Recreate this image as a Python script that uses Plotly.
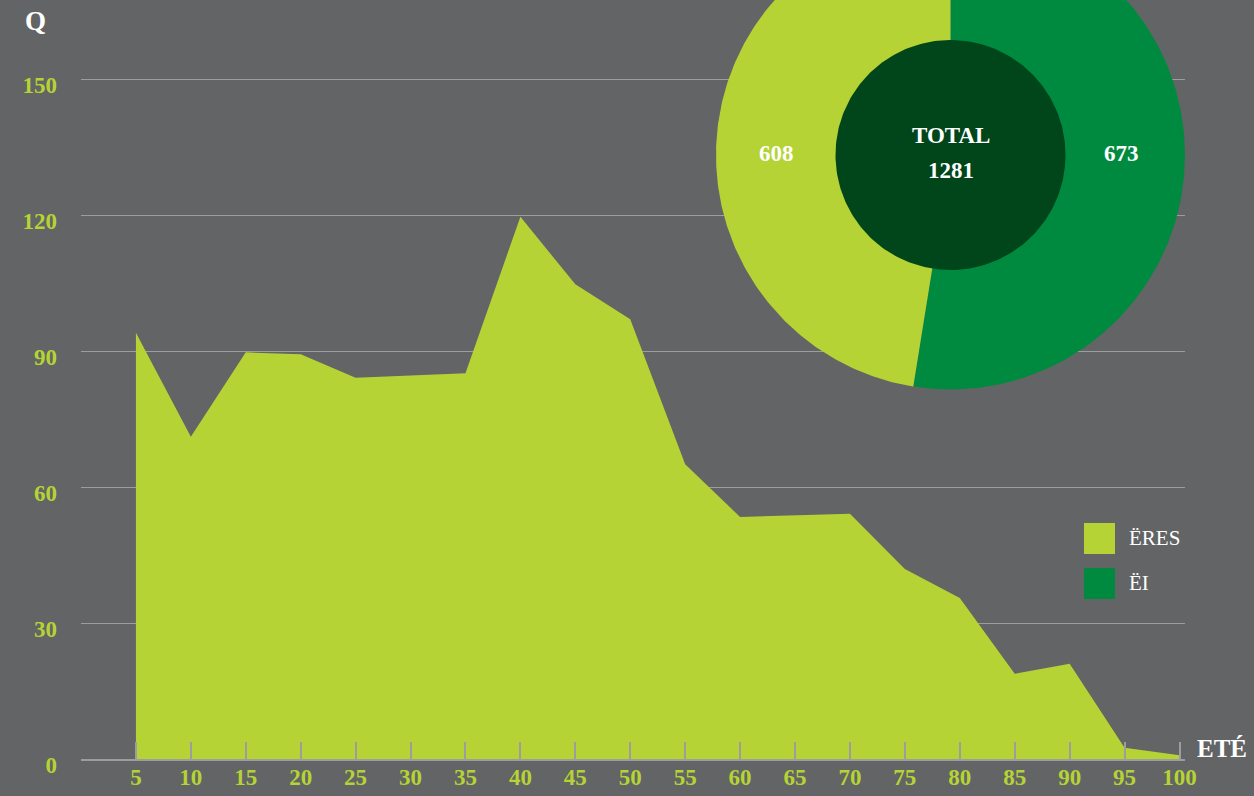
import numpy as np
import plotly.graph_objects as go

# ---------------- data ----------------
ages = [5, 10, 15, 20, 25, 30, 35, 40, 45, 50, 55, 60, 65, 70, 75, 80, 85, 90, 95, 100]
counts = [94.0, 71.1, 89.7, 89.3, 84.1, 84.6, 85.1, 119.6, 104.7, 97.0, 65.0, 53.4,
          53.8, 54.1, 41.9, 35.5, 18.8, 21.0, 2.5, 0.8]
y_ticks = [0, 30, 60, 90, 120, 150]
gender_labels = ["ËRES", "ËI"]
gender_values = [608, 673]
total_label = "TOTAL"
y_title = "Q"
x_title = "ETÉ"

# ---------------- style ----------------
BG = "#636466"
LIGHT = "#b5d334"
DARK = "#008a40"
CORE = "#00461a"
GRID = "#9d9d9f"
FONT = "Liberation Serif"
W, H = 1254, 796
ML, MR, MT, MB = 81, 69, 0, 37
PW, PH = W - ML - MR, H - MT - MB

def px(x):
    return (x - ML) / PW

def py(y):
    return (H - MB - y) / PH

fig = go.Figure()

# area chart
fig.add_trace(go.Scatter(
    x=ages, y=counts, mode="lines", fill="tozeroy",
    line=dict(width=0, color=LIGHT), fillcolor=LIGHT,
    showlegend=False, name="Q"))

# donut (drawn on overlay axes, clipped by plot area like the original)
cx, cy, R = 950.5, 155, 234.5
inner = 115 / R
total = sum(gender_values)
colors = {0: LIGHT, 1: DARK}
start = 90.0
for i in [1, 0]:
    sweep = 360.0 * gender_values[i] / total
    th = np.radians(np.linspace(start, start - sweep, 240))
    xs = np.concatenate([[0], np.cos(th), [0]])
    ys = np.concatenate([[0], np.sin(th), [0]])
    fig.add_trace(go.Scatter(
        x=xs, y=ys, xaxis="x2", yaxis="y2", mode="lines", fill="toself",
        fillcolor=colors[i], line=dict(width=0, color=colors[i]),
        showlegend=False, name=gender_labels[i], hoverinfo="name"))
    start -= sweep
th = np.radians(np.linspace(0, 360, 240))
fig.add_trace(go.Scatter(
    x=inner * np.cos(th), y=inner * np.sin(th), xaxis="x2", yaxis="y2",
    mode="lines", fill="toself", fillcolor=CORE, line=dict(width=0, color=CORE),
    showlegend=False, hoverinfo="skip"))

ring_mid = (1 + inner) / 2 - 0.005
label_font = dict(family=FONT, size=23, color="white", weight="bold")
mid = dict(xanchor="center", yanchor="middle", showarrow=False)
annotations = [
    dict(x=-ring_mid, y=0.005, xref="x2", yref="y2", text=str(gender_values[0]),
         font=label_font, **mid),
    dict(x=ring_mid - 0.01, y=0.005, xref="x2", yref="y2", text=str(gender_values[1]),
         font=label_font, **mid),
    dict(x=0, y=20 / R, xref="x2", yref="y2", text=total_label,
         font=label_font, **mid),
    dict(x=0, y=-15 / R, xref="x2", yref="y2", text=str(total),
         font=label_font, **mid),
    dict(x=px(35), y=py(21), xref="paper", yref="paper", text=y_title,
         font=dict(family=FONT, size=27, color="white", weight="bold"), **mid),
    dict(x=px(1222), y=py(748), xref="paper", yref="paper", text=x_title,
         font=dict(family=FONT, size=25, color="white", weight="bold"), **mid),
]

# legend (custom swatches)
shapes = []
leg_rows = [(523, 554), (568, 599)]
for (y0, y1), i in zip(leg_rows, [0, 1]):
    shapes.append(dict(type="rect", xref="paper", yref="paper",
                       x0=px(1084), x1=px(1115), y0=py(y1), y1=py(y0),
                       fillcolor=colors[i], line=dict(width=0)))
    annotations.append(dict(x=px(1127), y=py((y0 + y1) / 2 - 1), xref="paper", yref="paper",
                            text=gender_labels[i], showarrow=False, xanchor="left",
                            yanchor="middle",
                            font=dict(family=FONT, size=21, color="white")))

tick_font = dict(family=FONT, size=23, color=LIGHT, weight="bold")
y_top = PH / (680 / 150)
x_right = 100 + (1185 - 1179.5) / 54.9 * 5

fig.update_layout(
    width=W, height=H,
    margin=dict(l=ML, r=MR, t=MT, b=MB, pad=0),
    paper_bgcolor=BG, plot_bgcolor=BG,
    showlegend=False,
    xaxis=dict(range=[0, x_right], tickvals=ages, ticks="inside", ticklen=17,
               tickwidth=2, tickcolor=GRID, showline=True, linecolor=GRID,
               linewidth=2, showgrid=False, zeroline=False, tickfont=tick_font,
               ticklabelstandoff=-4, layer="above traces", fixedrange=True),
    yaxis=dict(range=[0, y_top], tickvals=y_ticks, showgrid=True, gridcolor=GRID,
               gridwidth=1, zeroline=False, ticks="", tickfont=tick_font,
               ticklabelstandoff=23, ticklabelshift=6, fixedrange=True),
    xaxis2=dict(overlaying="x", anchor="y2", visible=False,
                range=[(ML - cx) / R, (ML + PW - cx) / R], fixedrange=True),
    yaxis2=dict(overlaying="y", anchor="x2", visible=False,
                range=[-(H - MB - cy) / R, (cy - MT) / R], fixedrange=True),
    annotations=annotations,
    shapes=shapes,
)

fig.write_html(
    "out.html",
    config={"displayModeBar": False},
    post_script="document.body.style.margin='0px';"
                "document.body.style.backgroundColor='#636466';",
)
